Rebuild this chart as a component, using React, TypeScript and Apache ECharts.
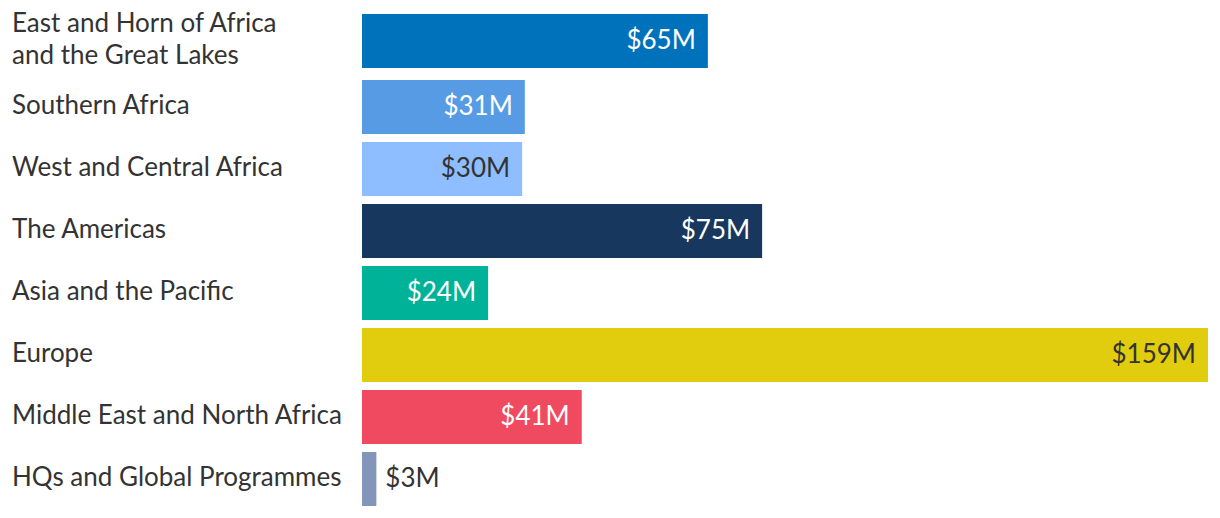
import React, { useEffect, useRef } from "react";
import * as echarts from "echarts";

const categories = [
  "East and Horn of Africa\nand the Great Lakes",
  "Southern Africa",
  "West and Central Africa",
  "The Americas",
  "Asia and the Pacific",
  "Europe",
  "Middle East and North Africa",
  "HQs and Global Programmes",
];
const values = [65, 30.6, 30.1, 75.2, 23.7, 159, 41.3, 2.7];
const barColors = ["#0072BC", "#589BE5", "#8EBEFF", "#18375F", "#00B398", "#E1CC0D", "#EF4A60", "#8395B9"];
const labelColors = ["#ffffff", "#ffffff", "#333333", "#ffffff", "#ffffff", "#333333", "#ffffff", "#333333"];
const outsideLabel = [false, false, false, false, false, false, false, true];
const xMax = 159;

const FONT = "Lato, 'Noto Sans', sans-serif";

export default function App() {
  const ref = useRef<HTMLDivElement>(null);
  useEffect(() => {
    if (!ref.current) return;
    const chart = echarts.init(ref.current, null, { renderer: "svg" });
    const makeData = (from: number, to: number) =>
      values.slice(from, to).map((v, k) => {
        const i = from + k;
        return {
          value: v,
          itemStyle: { color: barColors[i] },
          label: {
            show: true,
            position: outsideLabel[i] ? "right" : "insideRight",
            distance: outsideLabel[i] ? 9 : 12,
            formatter: () => "{v|$" + Math.round(v) + "M}\n{s| }",
            rich: {
              v: { color: labelColors[i], fontSize: 26, fontFamily: FONT, lineHeight: 30 },
              s: { fontSize: 1, lineHeight: 4 },
            },
          },
        };
      });
    const yAxisCommon = {
      type: "category" as const,
      inverse: true,
      axisLine: { show: false },
      axisTick: { show: false },
      splitLine: { show: false },
      axisLabel: {
        align: "left" as const,
        margin: 350,
        formatter: (value: string) =>
          value
            .split("\n")
            .map((s) => "{a|" + s + "}")
            .join("\n") + "\n{s| }",
        rich: {
          a: { color: "#333333", fontSize: 26, fontFamily: FONT, lineHeight: 32, align: "left" },
          s: { fontSize: 1, lineHeight: 6 },
        },
      },
    };
    const xAxisCommon = {
      type: "value" as const,
      min: 0,
      max: xMax,
      show: false,
    };
    chart.setOption({
      animation: false,
      grid: [
        { left: 362, right: 12, top: 10, height: 62 },
        { left: 362, right: 12, top: 76, height: 434 },
      ],
      xAxis: [
        { ...xAxisCommon, gridIndex: 0 },
        { ...xAxisCommon, gridIndex: 1 },
      ],
      yAxis: [
        { ...yAxisCommon, gridIndex: 0, data: categories.slice(0, 1) },
        { ...yAxisCommon, gridIndex: 1, data: categories.slice(1) },
      ],
      series: [
        {
          type: "bar",
          xAxisIndex: 0,
          yAxisIndex: 0,
          barWidth: 54,
          data: makeData(0, 1),
        },
        {
          type: "bar",
          xAxisIndex: 1,
          yAxisIndex: 1,
          barWidth: 54,
          data: makeData(1, values.length),
        },
      ],
    });
    return () => chart.dispose();
  }, []);
  return (
    <div
      ref={ref}
      style={{ position: "fixed", left: 0, top: 0, width: 1220, height: 518, background: "#ffffff" }}
    />
  );
}
